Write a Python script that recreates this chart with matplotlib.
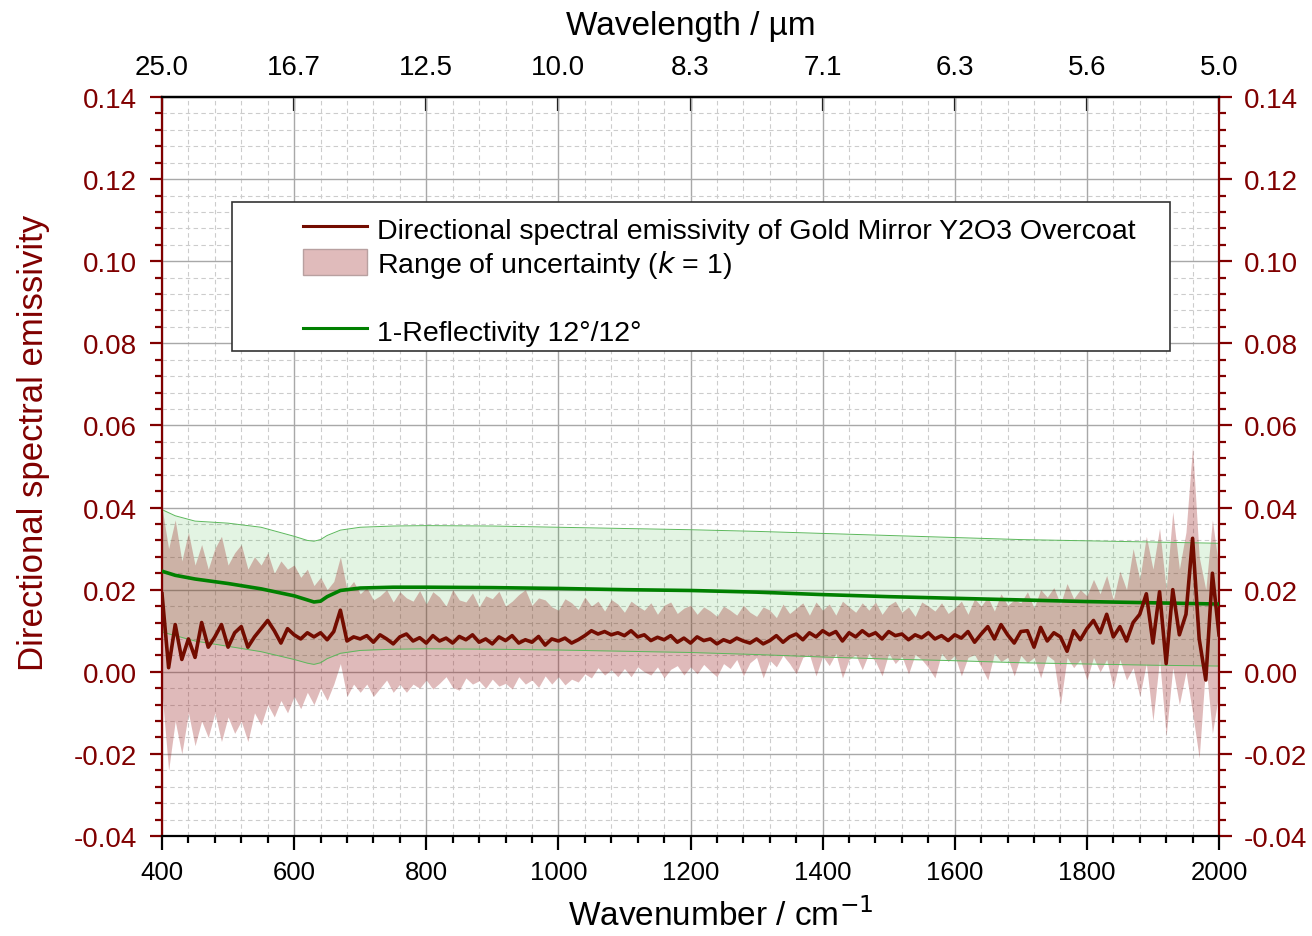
import numpy as np
import matplotlib
matplotlib.use("Agg")
import matplotlib.pyplot as plt
from matplotlib import font_manager
from matplotlib.lines import Line2D
from matplotlib.patches import Patch, Rectangle
from matplotlib.ticker import MultipleLocator, FormatStrFormatter

plt.rcParams['font.family'] = ['Liberation Sans', 'DejaVu Sans']

# narrow face for the bottom tick labels, if it is there
narrow = next((f.name for f in font_manager.fontManager.ttflist
               if 'Liberation Sans Narrow' in f.name), None)

# ---- data ----
wn = np.arange(400, 2001, 10)

emissivity = [
    0.0190, 0.0010, 0.0115, 0.0030, 0.0080, 0.0035, 0.0120, 0.0060, 0.0085, 0.0115,
    0.0060, 0.0095, 0.0110, 0.0060, 0.0085, 0.0105, 0.0125, 0.0100, 0.0070, 0.0105,
    0.0090, 0.0080, 0.0095, 0.0085, 0.0095, 0.0078, 0.0098, 0.0150, 0.0075, 0.0085,
    0.0080, 0.0088, 0.0072, 0.0090, 0.0080, 0.0068, 0.0085, 0.0092, 0.0075, 0.0083,
    0.0070, 0.0088, 0.0075, 0.0082, 0.0070, 0.0086, 0.0078, 0.0090, 0.0072, 0.0080,
    0.0068, 0.0085, 0.0076, 0.0088, 0.0070, 0.0078, 0.0072, 0.0086, 0.0065, 0.0080,
    0.0075, 0.0082, 0.0070, 0.0078, 0.0088, 0.0100, 0.0092, 0.0098, 0.0090, 0.0095,
    0.0088, 0.0100, 0.0085, 0.0090, 0.0076, 0.0084, 0.0078, 0.0088, 0.0072, 0.0082,
    0.0070, 0.0085, 0.0076, 0.0080, 0.0068, 0.0078, 0.0072, 0.0082, 0.0075, 0.0070,
    0.0080, 0.0068, 0.0076, 0.0088, 0.0072, 0.0085, 0.0092, 0.0078, 0.0095, 0.0085,
    0.0100, 0.0090, 0.0098, 0.0075, 0.0095, 0.0085, 0.0100, 0.0088, 0.0095, 0.0080,
    0.0098, 0.0088, 0.0092, 0.0078, 0.0090, 0.0083, 0.0095, 0.0080, 0.0088, 0.0076,
    0.0090, 0.0082, 0.0098, 0.0072, 0.0092, 0.0110, 0.0080, 0.0115, 0.0090, 0.0070,
    0.0098, 0.0100, 0.0060, 0.0108, 0.0075, 0.0095, 0.0085, 0.0050, 0.0100, 0.0078,
    0.0105, 0.0125, 0.0095, 0.0140, 0.0085, 0.0110, 0.0075, 0.0120, 0.0140, 0.0190,
    0.0070, 0.0195, 0.0020, 0.0200, 0.0090, 0.0140, 0.0325, 0.0080, -0.0020, 0.0240,
    0.0090,
]

unc_upper = [
    0.0400, 0.0300, 0.0370, 0.0270, 0.0340, 0.0260, 0.0310, 0.0250, 0.0300, 0.0330,
    0.0260, 0.0290, 0.0310, 0.0250, 0.0280, 0.0260, 0.0290, 0.0240, 0.0270, 0.0250,
    0.0260, 0.0230, 0.0250, 0.0210, 0.0230, 0.0200, 0.0220, 0.0280, 0.0200, 0.0220,
    0.0190, 0.0205, 0.0175, 0.0185, 0.0200, 0.0170, 0.0195, 0.0180, 0.0172, 0.0198,
    0.0165, 0.0195, 0.0182, 0.0160, 0.0200, 0.0175, 0.0170, 0.0192, 0.0158, 0.0185,
    0.0178, 0.0196, 0.0160, 0.0172, 0.0188, 0.0200, 0.0162, 0.0180, 0.0175, 0.0158,
    0.0150, 0.0178, 0.0168, 0.0152, 0.0182, 0.0160, 0.0172, 0.0148, 0.0176, 0.0165,
    0.0145, 0.0172, 0.0160, 0.0150, 0.0168, 0.0140, 0.0162, 0.0170, 0.0142, 0.0155,
    0.0162, 0.0140, 0.0158, 0.0148, 0.0135, 0.0160, 0.0150, 0.0138, 0.0162, 0.0145,
    0.0135, 0.0158, 0.0150, 0.0132, 0.0165, 0.0142, 0.0155, 0.0168, 0.0138, 0.0170,
    0.0150, 0.0165, 0.0138, 0.0172, 0.0158, 0.0145, 0.0168, 0.0150, 0.0170, 0.0140,
    0.0162, 0.0172, 0.0145, 0.0158, 0.0135, 0.0170, 0.0160, 0.0148, 0.0168, 0.0142,
    0.0155, 0.0172, 0.0140, 0.0178, 0.0160, 0.0182, 0.0148, 0.0190, 0.0162, 0.0175,
    0.0168, 0.0195, 0.0155, 0.0200, 0.0182, 0.0205, 0.0165, 0.0215, 0.0178, 0.0200,
    0.0185, 0.0225, 0.0190, 0.0235, 0.0175, 0.0245, 0.0200, 0.0300, 0.0225, 0.0330,
    0.0250, 0.0350, 0.0200, 0.0390, 0.0250, 0.0340, 0.0550, 0.0280, 0.0200, 0.0370,
    0.0250,
]

unc_lower = [
    -0.0050, -0.0240, -0.0120, -0.0200, -0.0100, -0.0180, -0.0120, -0.0160, -0.0100, -0.0170,
    -0.0110, -0.0150, -0.0120, -0.0170, -0.0100, -0.0130, -0.0080, -0.0110, -0.0070, -0.0100,
    -0.0060, -0.0090, -0.0050, -0.0080, -0.0040, -0.0070, -0.0030, 0.0020, -0.0060, -0.0030,
    -0.0050, -0.0030, -0.0060, -0.0040, -0.0020, -0.0050, -0.0030, -0.0050, -0.0030, -0.0040,
    -0.0020, -0.0042, -0.0028, -0.0012, -0.0038, -0.0045, -0.0015, -0.0030, -0.0022, -0.0040,
    -0.0018, -0.0035, -0.0028, -0.0042, -0.0012, -0.0030, -0.0020, -0.0038, -0.0010, -0.0030,
    -0.0012, -0.0032, -0.0018, -0.0025, -0.0005, -0.0015, 0.0010, -0.0008, 0.0005, -0.0012,
    0.0008, -0.0012, 0.0012, 0.0000, -0.0008, 0.0012, -0.0015, 0.0006, 0.0015, -0.0008,
    0.0012, -0.0005, 0.0018, 0.0002, -0.0012, 0.0020, 0.0008, 0.0030, -0.0010, 0.0022,
    0.0035, -0.0015, 0.0028, 0.0012, 0.0040, 0.0020, -0.0005, 0.0035, 0.0042, -0.0010,
    0.0038, 0.0015, 0.0045, -0.0015, 0.0030, 0.0042, 0.0005, 0.0045, 0.0025, -0.0010,
    0.0045, 0.0020, 0.0038, -0.0005, 0.0042, 0.0030, 0.0010, -0.0015, 0.0045, 0.0025,
    0.0040, -0.0010, 0.0035, 0.0042, 0.0012, -0.0020, 0.0045, 0.0025, 0.0035, -0.0010,
    0.0040, 0.0022, 0.0035, -0.0015, 0.0040, 0.0028, -0.0080, 0.0035, 0.0010, 0.0030,
    -0.0020, 0.0035, 0.0000, 0.0030, -0.0040, 0.0030, -0.0020, 0.0010, -0.0060, 0.0020,
    -0.0120, 0.0030, -0.0156, 0.0010, -0.0080, 0.0000, -0.0100, -0.0210, 0.0020, -0.0150,
    -0.0050,
]

# 1 - reflectivity and its band
wn_refl = [400, 420, 450, 500, 550, 600, 620, 630, 640, 650, 670, 700, 750,
           800, 900, 1000, 1100, 1200, 1300, 1400, 1500, 1600, 1700, 1800, 1900, 2000]
refl = [0.0245, 0.0235, 0.0226, 0.0215, 0.0202, 0.0185, 0.0175, 0.0170, 0.0172,
        0.0183, 0.0198, 0.0204, 0.0206, 0.0206, 0.0205, 0.0203, 0.0200, 0.0198,
        0.0194, 0.0188, 0.0183, 0.0179, 0.0175, 0.0171, 0.0168, 0.0165]
refl_upper = [0.0395, 0.0380, 0.0367, 0.0362, 0.0352, 0.0330, 0.0320, 0.0318, 0.0322,
              0.0332, 0.0345, 0.0352, 0.0355, 0.0356, 0.0355, 0.0352, 0.0349, 0.0346,
              0.0342, 0.0337, 0.0332, 0.0327, 0.0322, 0.0319, 0.0316, 0.0313]
refl_lower = [0.0097, 0.0088, 0.0075, 0.0062, 0.0049, 0.0030, 0.0021, 0.0018, 0.0022,
              0.0032, 0.0045, 0.0052, 0.0055, 0.0056, 0.0055, 0.0053, 0.0050, 0.0047,
              0.0042, 0.0036, 0.0031, 0.0027, 0.0022, 0.0019, 0.0016, 0.0014]

wn_ticks = [400, 600, 800, 1000, 1200, 1400, 1600, 1800, 2000]
wn_labels = ['400', '600', '800', '1000', '1200', '1400', '1600', '1800', '2000']
wavelength_labels = ['25.0', '16.7', '12.5', '10.0', '8.3', '7.1', '6.3', '5.6', '5.0']

dark_red = '#800000'
line_red = '#730c00'

fig = plt.figure(figsize=(13.12, 9.37), dpi=100)
ax = fig.add_axes([0.12348, 0.10672, 0.80564, 0.78869])

# fills
ax.fill_between(wn_refl, refl_lower, refl_upper, color='#00a000', alpha=0.11,
                lw=0, zorder=1)
ax.plot(wn_refl, refl_upper, color='#5cb85c', lw=0.7, zorder=2)
ax.plot(wn_refl, refl_lower, color='#5cb85c', lw=0.7, zorder=2)
ax.fill_between(wn, unc_lower, unc_upper, color='#981c1c', alpha=0.30,
                lw=0, zorder=1.5)

ax.plot(wn_refl, refl, color='#008000', lw=2.6, zorder=3)
ax.plot(wn, emissivity, color=line_red, lw=2.6, zorder=4)

ax.set_xlim(400, 2000)
ax.set_ylim(-0.04, 0.14)
if narrow:
    ax.set_xticks(wn_ticks, labels=wn_labels, fontfamily=narrow, fontsize=20)
else:
    ax.set_xticks(wn_ticks, labels=wn_labels, fontsize=18.5)
ax.xaxis.set_minor_locator(MultipleLocator(40))
ax.yaxis.set_major_locator(MultipleLocator(0.02))
ax.yaxis.set_minor_locator(MultipleLocator(0.004))
ax.yaxis.set_major_formatter(FormatStrFormatter('%.2f'))

ax.set_axisbelow(True)
ax.grid(which='major', color='#a8a8a8', lw=1.0)
ax.grid(which='minor', color='#cccccc', lw=0.8, linestyle=(0, (4, 3)))

# spines
for side in ['left', 'right']:
    ax.spines[side].set_color(dark_red)
    ax.spines[side].set_linewidth(1.6)
ax.spines['bottom'].set_linewidth(1.6)
ax.spines['top'].set_linewidth(1.6)

# ticks
ax.tick_params(axis='x', which='major', direction='out', length=10, width=1.6,
               pad=7, top=False)
ax.tick_params(axis='x', which='minor', direction='out', length=5, width=1.6, top=False)
ax.tick_params(axis='y', which='both', left=True, right=True, labelleft=True,
               labelright=True, colors=dark_red, direction='out', width=1.6)
ax.tick_params(axis='y', which='major', length=9, labelsize=20, pad=9)
ax.tick_params(axis='y', which='minor', length=5)

secax = ax.secondary_xaxis('top')
secax.set_xticks(wn_ticks, labels=wavelength_labels)
secax.tick_params(axis='x', direction='in', length=10, width=1.6, labelsize=20, pad=12)
secax.spines['top'].set_linewidth(1.6)
secax.set_xlabel('Wavelength / µm', fontsize=24, labelpad=15)

ax.set_xlabel('Wavenumber / cm$^{-1}$', fontsize=24)
ax.xaxis.set_label_coords(0.529, -0.083)
ax.set_ylabel('Directional spectral emissivity', fontsize=25, color=dark_red)
ax.yaxis.set_label_coords(-0.106, 0.533)

# legend box and entries
box = Rectangle((0.0662, 0.656), 0.8875, 0.202, transform=ax.transAxes,
                facecolor='white', edgecolor='#333333', lw=1.2, zorder=6)
ax.add_patch(box)
handles = [
    Line2D([], [], color=line_red, lw=2.2),
    Patch(facecolor='#e0bbbb', edgecolor='#b8a0a0', lw=1),
    Line2D([], [], color='none'),
    Line2D([], [], color='#008000', lw=2.2),
]
labels = ['Directional spectral emissivity of Gold Mirror Y2O3 Overcoat',
          'Range of uncertainty ($k$ = 1)', ' ', '1-Reflectivity 12°/12°']
leg = ax.legend(handles, labels, loc='upper left', bbox_to_anchor=(0.123, 0.856),
                frameon=False, fontsize=20.5, handlelength=2.25, handleheight=1.05,
                handletextpad=0.32, labelspacing=0.14, borderaxespad=0)
leg.set_zorder(7)

fig.savefig('out.png', dpi=100)
